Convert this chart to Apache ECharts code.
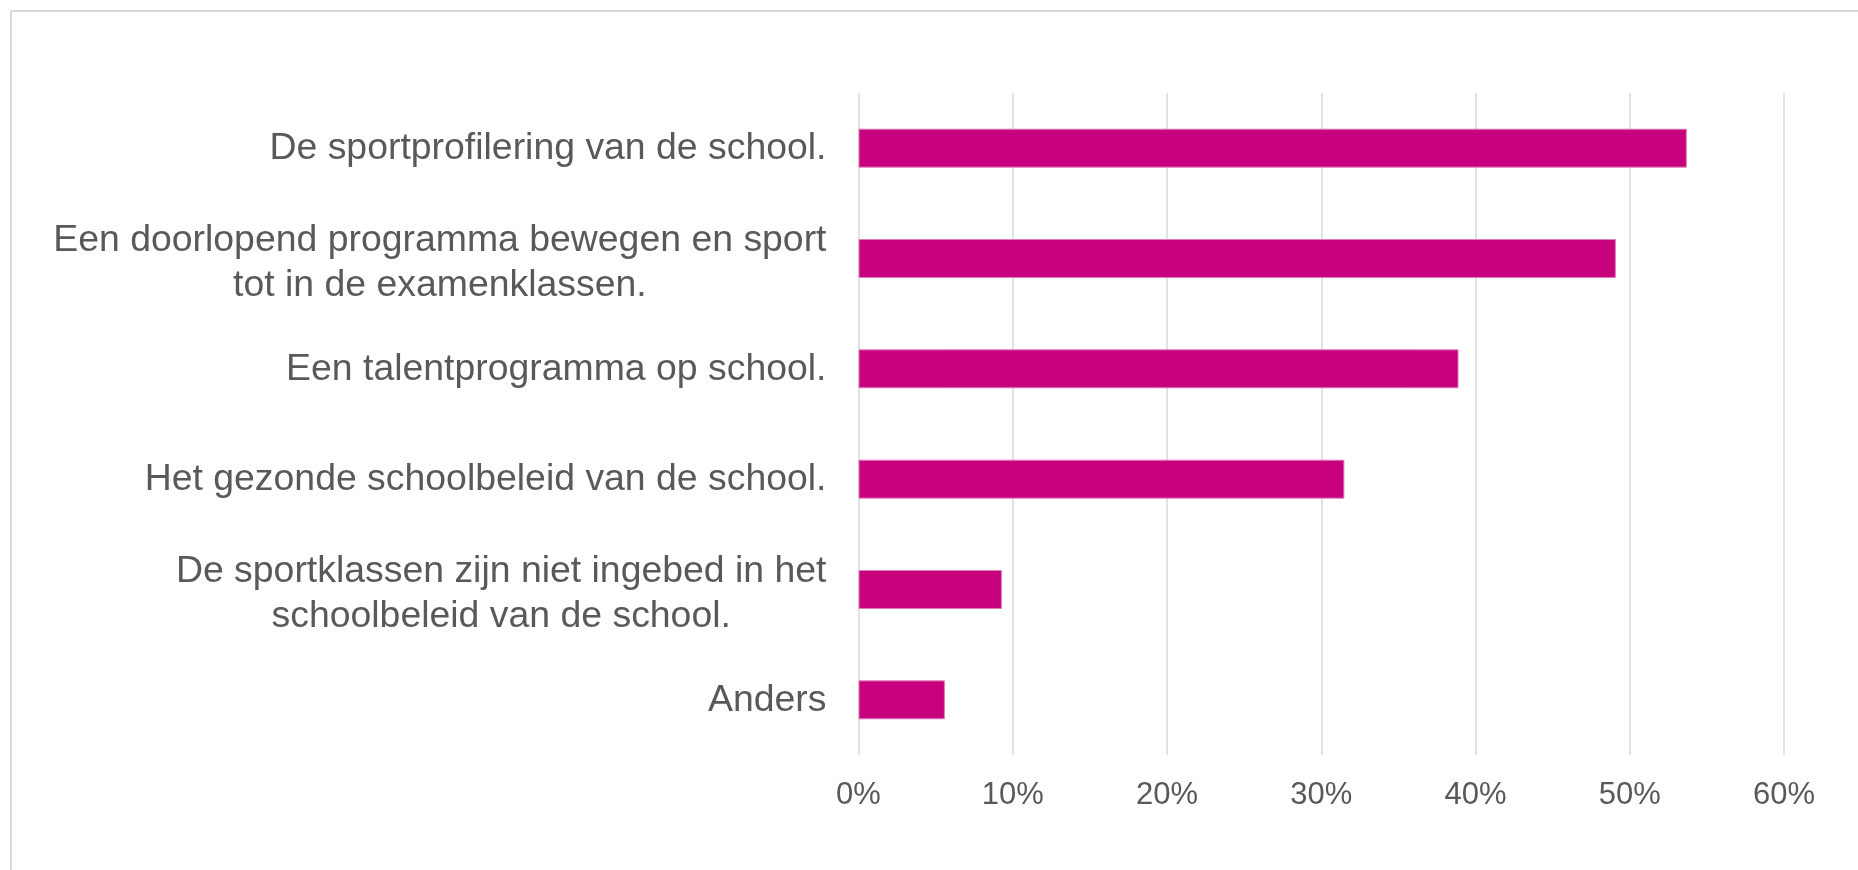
<!DOCTYPE html>
<html>
<head>
<meta charset="utf-8">
<script src="https://cdn.jsdelivr.net/npm/echarts@6/dist/echarts.min.js"></script>
<style>
html,body{margin:0;padding:0;background:#fff;}
#wrap{position:relative;width:1858px;height:870px;overflow:hidden;}
#chart{position:absolute;left:0;top:0;width:1858px;height:870px;}
#frame{position:absolute;left:10px;top:10px;width:1900px;height:900px;border:2px solid #d9d9d9;box-sizing:border-box;pointer-events:none;}
</style>
</head>
<body>
<div id="wrap">
<div id="chart"></div>
<div id="frame"></div>
</div>
<script>
// Categories, top to bottom
const categories = [
  "De sportprofilering van de school.",
  "Een doorlopend programma bewegen en sport\ntot in de examenklassen.",
  "Een talentprogramma op school.",
  "Het gezonde schoolbeleid van de school.",
  "De sportklassen zijn niet ingebed in het\nschoolbeleid van de school.",
  "Anders"
];
// Percentages
const values = [53.7, 49.1, 38.9, 31.5, 9.3, 5.6];
// Axis ticks
const axisMin = 0;
const axisMax = 60;
const axisStep = 10;

const chart = echarts.init(document.getElementById('chart'), null, {renderer: 'canvas'});
const FONT = '"Liberation Sans", Arial, sans-serif';
const labelText = {align: 'center', color: '#595959', fontFamily: FONT, fontSize: 37.4, lineHeight: 45};
chart.setOption({
  animation: false,
  backgroundColor: '#ffffff',
  grid: {left: 858.5, right: 74, top: 93, bottom: 115, containLabel: false},
  xAxis: {
    type: 'value',
    min: axisMin, max: axisMax, interval: axisStep,
    axisLine: {show: false},
    axisTick: {show: false},
    splitLine: {show: true, lineStyle: {color: '#d9d9d9', width: 1.5}},
    axisLabel: {
      formatter: '{value}%',
      color: '#595959', fontFamily: FONT, fontSize: 31, margin: 25
    }
  },
  yAxis: {
    type: 'category',
    inverse: true,
    data: categories,
    axisLine: {show: false},
    axisTick: {show: false},
    splitLine: {show: false},
    axisLabel: {
      margin: 32,
      formatter: function (v) {
        const lines = v.split('\n');
        if (lines.length === 1) return '{c|' + v + '}';
        return lines.map(function (s) { return '{f|' + s + '}'; }).join('\n');
      },
      rich: {
        c: Object.assign({padding: [2, 0, 0, 0]}, labelText),
        f: Object.assign({padding: [10, 0, 0, 0]}, labelText)
      }
    }
  },
  series: [{
    type: 'bar',
    data: values,
    barWidth: '35.3%',
    itemStyle: {color: '#C7007D', borderColor: '#E27DB9', borderWidth: 1}
  }]
});
</script>
</body>
</html>
